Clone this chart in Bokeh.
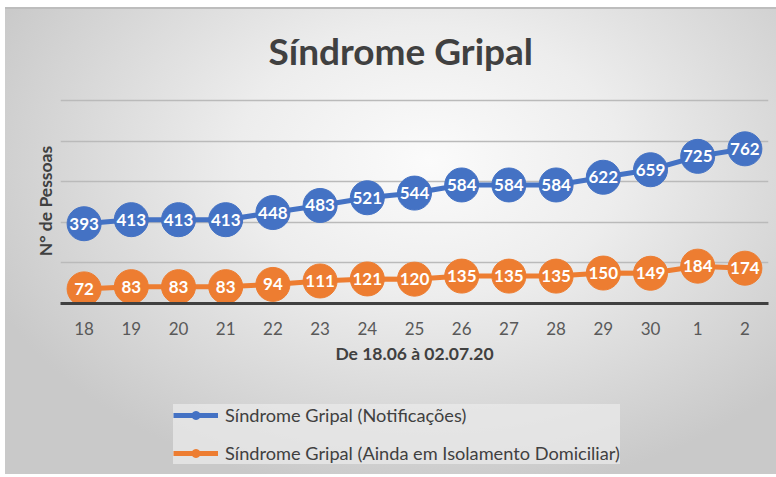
from bokeh.plotting import figure
from bokeh.layouts import column
from bokeh.models import (FactorRange, Range1d, FixedTicker, ColumnDataSource, LabelSet,
                          Legend, LegendItem)
from bokeh.core.properties import value
from bokeh.embed import file_html
from bokeh.resources import INLINE

days = ["18", "19", "20", "21", "22", "23", "24", "25", "26", "27", "28", "29", "30", "1", "2"]
notificacoes = [393, 413, 413, 413, 448, 483, 521, 544, 584, 584, 584, 622, 659, 725, 762]
isolamento = [72, 83, 83, 83, 94, 111, 121, 120, 135, 135, 135, 150, 149, 184, 174]
grid_ticks = [200, 400, 600, 800, 1000]
series_names = ["Síndrome Gripal (Notificações)",
                "Síndrome Gripal (Ainda em Isolamento Domiciliar)"]

BLUE = "#4472C4"
ORANGE = "#ED7D31"
FONT = "Lato"

src_a = ColumnDataSource(dict(x=days, y=notificacoes, t=[str(v) for v in notificacoes]))
src_b = ColumnDataSource(dict(x=days, y=isolamento, t=[str(v) for v in isolamento]))

# ---------------- main chart ----------------
p = figure(frame_width=708, frame_height=205, x_range=FactorRange(*days), y_range=Range1d(0, 1010),
           output_backend="svg", toolbar_location=None,
           title="Síndrome Gripal",
           min_border_left=60, min_border_right=8, min_border_top=98, min_border_bottom=77)
p.background_fill_color = None
p.border_fill_color = None
p.outline_line_color = None

p.title.text_font = FONT
p.title.text_font_size = "37px"
p.title.text_font_style = "bold"
p.title.text_color = "#404040"
p.title.align = "left"
p.title.standoff = 51
p.title.offset = 208

p.line("x", "y", source=src_a, line_color=BLUE, line_width=5)
p.scatter("x", "y", source=src_a, size=34, fill_color=BLUE, line_color=BLUE)
p.line("x", "y", source=src_b, line_color=ORANGE, line_width=5)
p.scatter("x", "y", source=src_b, size=34, fill_color=ORANGE, line_color=ORANGE)

for src in (src_a, src_b):
    p.add_layout(LabelSet(x="x", y="y", text="t", source=src, text_color="white",
                          text_font=value(FONT), text_font_style="bold", text_font_size="17px",
                          text_align="center", text_baseline="middle"))

p.xgrid.grid_line_color = None
p.ygrid.ticker = FixedTicker(ticks=grid_ticks)
p.ygrid.grid_line_color = "#bababa"
p.ygrid.grid_line_width = 1.5

p.yaxis.ticker = FixedTicker(ticks=[])
p.yaxis.axis_line_color = None
p.yaxis.major_tick_line_color = None
p.yaxis.minor_tick_line_color = None
p.yaxis.axis_label = "N° de Pessoas"
p.yaxis.axis_label_text_font = FONT
p.yaxis.axis_label_text_font_size = "17.5px"
p.yaxis.axis_label_text_font_style = "bold"
p.yaxis.axis_label_text_color = "#404040"
p.yaxis.axis_label_standoff = 5

p.xaxis.axis_line_color = "#404040"
p.xaxis.axis_line_width = 3
p.xaxis.major_tick_line_color = None
p.xaxis.minor_tick_line_color = None
p.xaxis.major_label_text_font = FONT
p.xaxis.major_label_text_font_size = "17px"
p.xaxis.major_label_text_color = "#595959"
p.xaxis.major_label_standoff = 12
p.xaxis.axis_label = "De 18.06 à 02.07.20"
p.xaxis.axis_label_text_font = FONT
p.xaxis.axis_label_text_font_size = "17.5px"
p.xaxis.axis_label_text_font_style = "bold"
p.xaxis.axis_label_text_color = "#404040"
p.xaxis.axis_label_standoff = 5

# ---------------- legend strip ----------------
q = figure(frame_width=776, frame_height=97, x_range=FactorRange(*days), y_range=Range1d(2000, 3000),
           output_backend="svg", toolbar_location=None, x_axis_type=None, y_axis_type=None,
           min_border_left=0, min_border_right=0, min_border_top=0, min_border_bottom=0)
q.background_fill_color = None
q.border_fill_color = None
q.outline_line_color = None
q.grid.grid_line_color = None

qla = q.line("x", "y", source=src_a, line_color=BLUE, line_width=5)
qsa = q.scatter("x", "y", source=src_a, size=34, fill_color=BLUE, line_color=BLUE)
qlb = q.line("x", "y", source=src_b, line_color=ORANGE, line_width=5)
qsb = q.scatter("x", "y", source=src_b, size=34, fill_color=ORANGE, line_color=ORANGE)

legend = Legend(items=[
    LegendItem(label=series_names[0], renderers=[qla, qsa]),
    LegendItem(label=series_names[1], renderers=[qlb, qsb]),
], location=(173, 13), orientation="vertical")
legend.label_text_font = FONT
legend.label_text_font_size = "18.2px"
legend.label_text_color = "#404040"
legend.glyph_width = 45
legend.glyph_height = 20
legend.label_standoff = 7
legend.label_height = 20
legend.spacing = 16
legend.padding = 6
legend.margin = 0
legend.background_fill_color = "#e9e9e9"
legend.background_fill_alpha = 0.75
legend.border_line_color = None
q.add_layout(legend, "center")

layout = column(p, q, spacing=0)
layout.styles = {
    "background-color": "white",
    "background-image": ("linear-gradient(#bdbdbd, #bdbdbd), "
                         "radial-gradient(ellipse 62% 72% at 55% 33%, #fbfbfb 0%, #ededed 40%, #c9c9c9 100%)"),
    "background-size": "771px 2px, 771px 467px",
    "background-position": "5px 7px, 5px 7px",
    "background-repeat": "no-repeat",
}

open("out.html", "w").write(file_html(layout, INLINE))
